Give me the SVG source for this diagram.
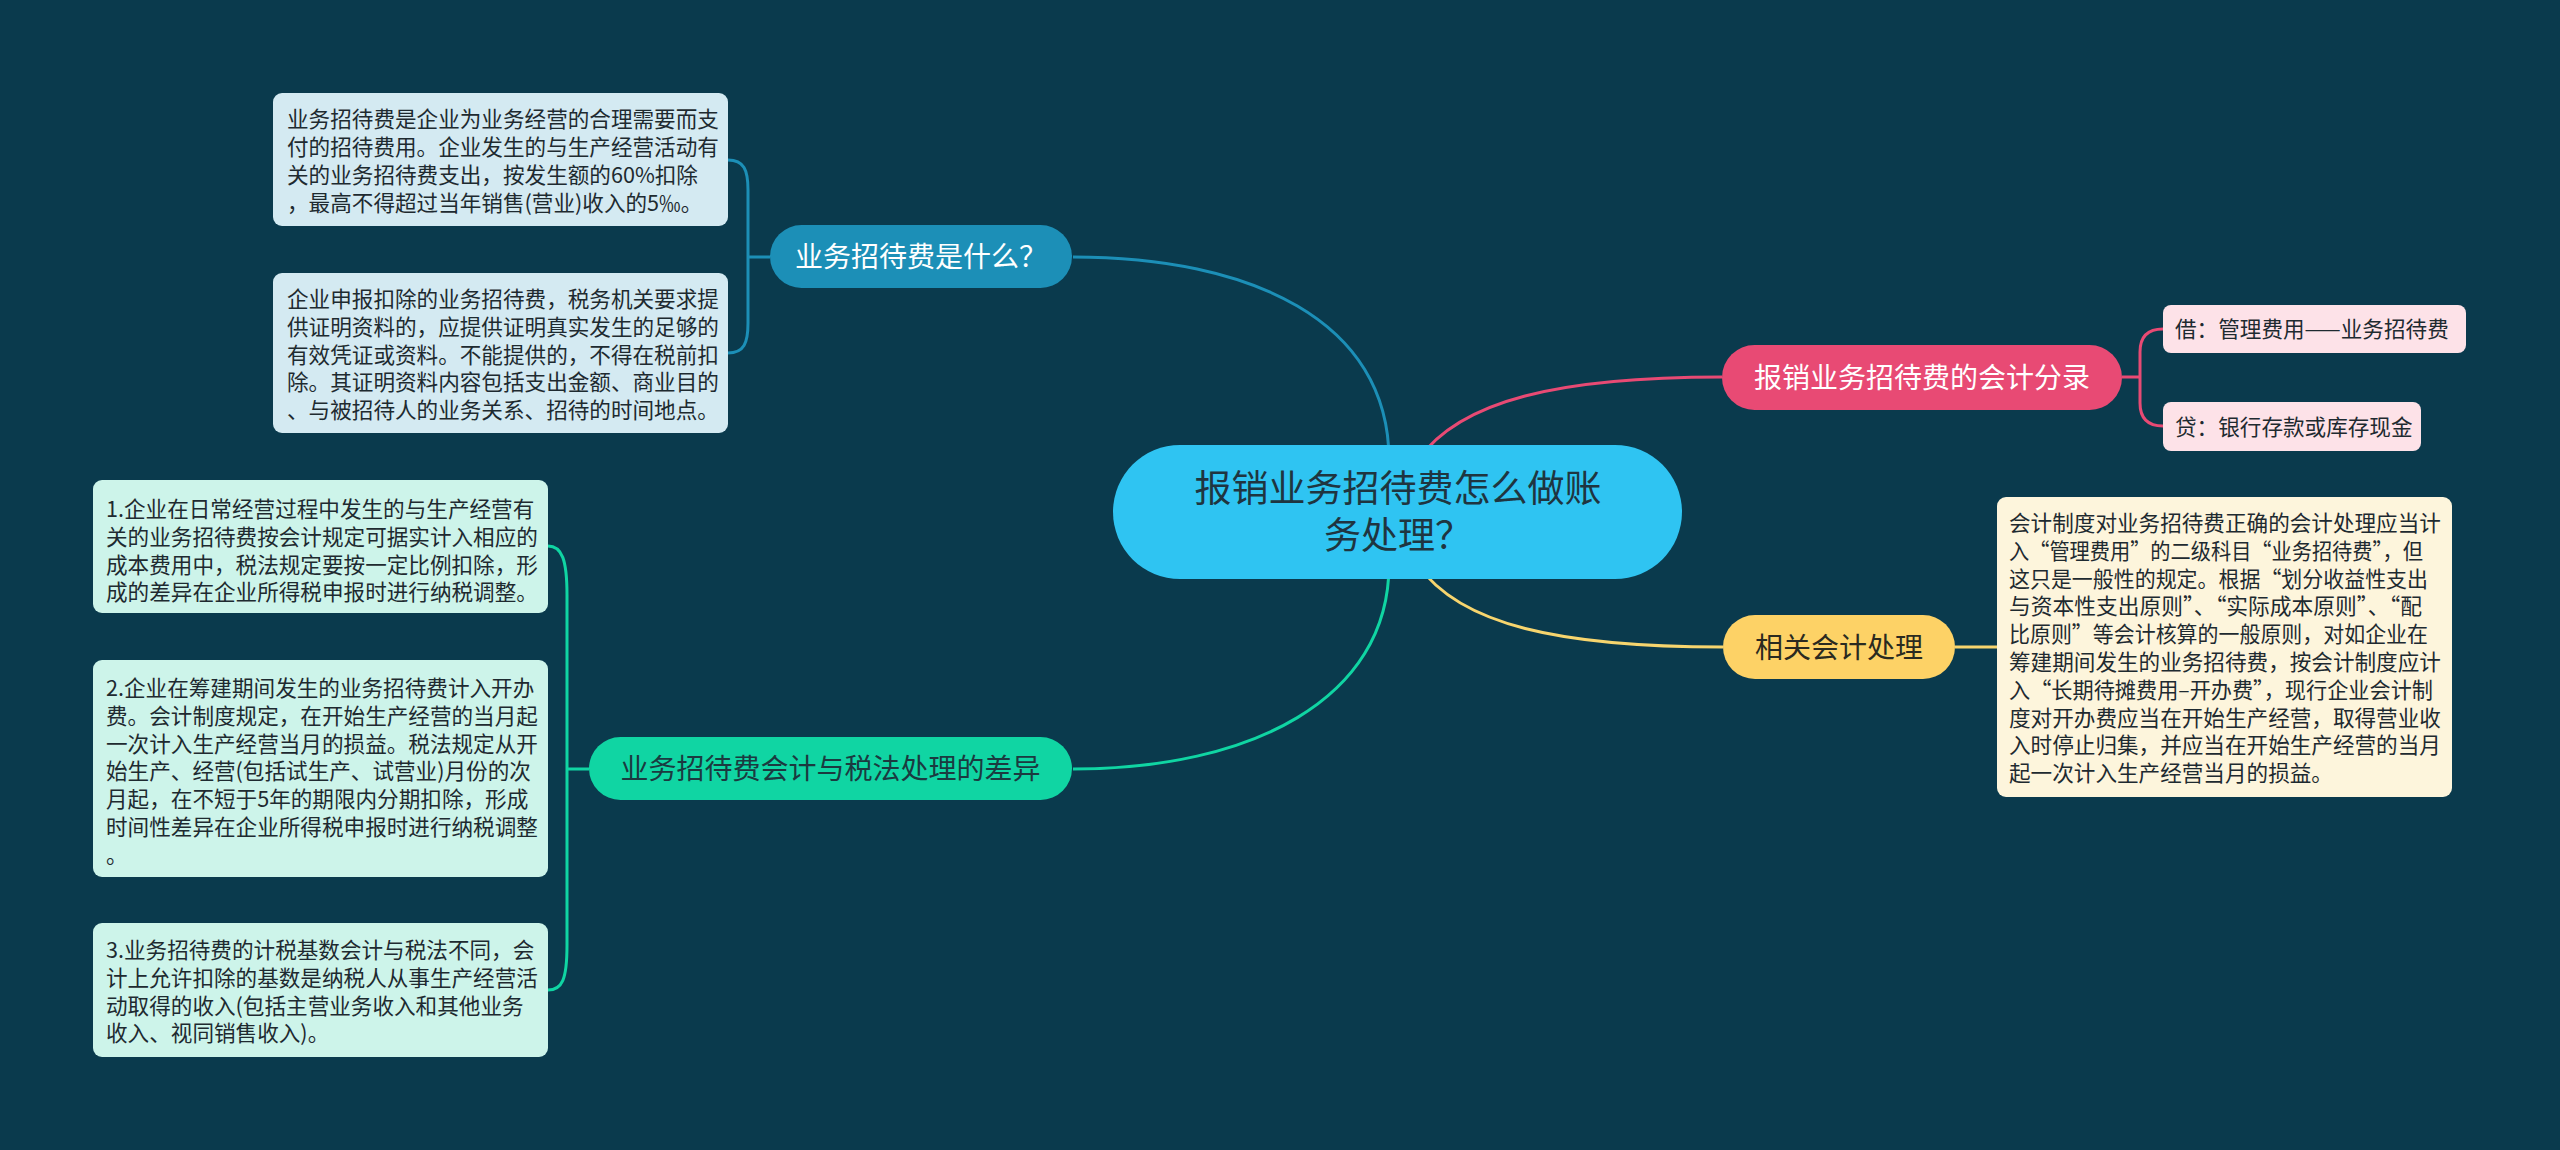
<svg xmlns="http://www.w3.org/2000/svg" width="2560" height="1150" viewBox="0 0 2560 1150">
<style>
text{font-family:"Noto Sans CJK SC","Noto Sans",sans-serif}
.leaf{font-size:21.6px;fill:#1e2a30}
.l1{font-size:28px;text-anchor:middle}
.c{fill:none;stroke-width:3}
</style>
<rect x="0" y="0" width="2560" height="1150" fill="#0a3a4d"/>
<g id="connectors">
<path class="c" stroke="#1c8fb7" d="M1389,460 C1389,320 1250,257 1073,257"/>
<path class="c" stroke="#10d5a3" d="M1389,565 C1389,700 1250,769 1073,769"/>
<path class="c" stroke="#e84a74" d="M1418,460 C1460,400 1560,377 1722,377"/>
<path class="c" stroke="#f7d56e" d="M1418,565 C1460,625 1560,647 1723,647"/>
<path class="c" stroke="#1c8fb7" d="M728,160 C744,160 748,170 748,190 L748,323 C748,343 744,353 728,353 M748,257 L770,257"/>
<path class="c" stroke="#10d5a3" d="M548,546 C562,546 567,560 567,595 L567,945 C567,980 562,990 548,990 M567,769 L589,769"/>
<path class="c" stroke="#e84a74" d="M2122,377 L2140,377 M2163,329 C2148,329 2140,336 2140,352 L2140,403 C2140,419 2148,426 2163,426"/>
<path class="c" stroke="#f7d56e" d="M1955,647 L1997,647"/>
</g>
<g id="center">
<rect x="1113" y="445" width="569" height="134" rx="67" fill="#2fc4f2"/>
<text font-size="37" text-anchor="middle" fill="#1f3540"><tspan x="1398" y="502">报销业务招待费怎么做账</tspan><tspan x="1398" y="549">务处理？</tspan></text>
</g>
<g id="n-what">
<rect x="770" y="225" width="302" height="63" rx="31.5" fill="#1c8fb7"/>
<text class="l1" x="921" y="267" fill="#ffffff">业务招待费是什么？</text>
</g>
<g id="n-diff">
<rect x="589" y="737" width="483" height="63" rx="31.5" fill="#10d5a3"/>
<text class="l1" x="830.5" y="779" fill="#1b3a40">业务招待费会计与税法处理的差异</text>
</g>
<g id="n-entry">
<rect x="1722" y="345" width="400" height="65" rx="32.5" fill="#e84a74"/>
<text class="l1" x="1922" y="388" fill="#ffffff">报销业务招待费的会计分录</text>
</g>
<g id="n-related">
<rect x="1723" y="615" width="232" height="64" rx="32" fill="#fdd266"/>
<text class="l1" x="1839" y="657.6" fill="#2a2a20">相关会计处理</text>
</g>
<g id="leaf-what-1">
<rect x="273" y="93" width="455" height="133" rx="9" fill="#d4eaf2"/>
<text class="leaf" x="287" y="127.3">业务招待费是企业为业务经营的合理需要而支</text>
<text class="leaf" x="287" y="155.1">付的招待费用。企业发生的与生产经营活动有</text>
<text class="leaf" x="287" y="182.9">关的业务招待费支出，按发生额的60%扣除</text>
<text class="leaf" x="287" y="210.7">，最高不得超过当年销售(营业)收入的5‰。</text>
</g>
<g id="leaf-what-2">
<rect x="273" y="273" width="455" height="160" rx="9" fill="#d4eaf2"/>
<text class="leaf" x="287" y="306.9">企业申报扣除的业务招待费，税务机关要求提</text>
<text class="leaf" x="287" y="334.7">供证明资料的，应提供证明真实发生的足够的</text>
<text class="leaf" x="287" y="362.5">有效凭证或资料。不能提供的，不得在税前扣</text>
<text class="leaf" x="287" y="390.3">除。其证明资料内容包括支出金额、商业目的</text>
<text class="leaf" x="287" y="418.1">、与被招待人的业务关系、招待的时间地点。</text>
</g>
<g id="leaf-diff-1">
<rect x="93" y="480" width="455" height="133" rx="9" fill="#cdf4ea"/>
<text class="leaf" x="106" y="517">1.企业在日常经营过程中发生的与生产经营有</text>
<text class="leaf" x="106" y="544.7">关的业务招待费按会计规定可据实计入相应的</text>
<text class="leaf" x="106" y="572.5">成本费用中，税法规定要按一定比例扣除，形</text>
<text class="leaf" x="106" y="600.3">成的差异在企业所得税申报时进行纳税调整。</text>
</g>
<g id="leaf-diff-2">
<rect x="93" y="660" width="455" height="217" rx="9" fill="#cdf4ea"/>
<text class="leaf" x="106" y="696">2.企业在筹建期间发生的业务招待费计入开办</text>
<text class="leaf" x="106" y="723.8">费。会计制度规定，在开始生产经营的当月起</text>
<text class="leaf" x="106" y="751.6">一次计入生产经营当月的损益。税法规定从开</text>
<text class="leaf" x="106" y="779.4">始生产、经营(包括试生产、试营业)月份的次</text>
<text class="leaf" x="106" y="807.2">月起，在不短于5年的期限内分期扣除，形成</text>
<text class="leaf" x="106" y="835">时间性差异在企业所得税申报时进行纳税调整</text>
<text class="leaf" x="106" y="862.8">。</text>
</g>
<g id="leaf-diff-3">
<rect x="93" y="923" width="455" height="134" rx="9" fill="#cdf4ea"/>
<text class="leaf" x="106" y="958">3.业务招待费的计税基数会计与税法不同，会</text>
<text class="leaf" x="106" y="985.8">计上允许扣除的基数是纳税人从事生产经营活</text>
<text class="leaf" x="106" y="1013.6">动取得的收入(包括主营业务收入和其他业务</text>
<text class="leaf" x="106" y="1041.4">收入、视同销售收入)。</text>
</g>
<g id="leaf-entry-1">
<rect x="2163" y="305" width="303" height="48" rx="8" fill="#fde2e8"/>
<text class="leaf" x="2175" y="337" fill="#5b1a2b">借：管理费用——业务招待费</text>
</g>
<g id="leaf-entry-2">
<rect x="2163" y="402" width="258" height="49" rx="8" fill="#fde2e8"/>
<text class="leaf" x="2175" y="434.5" fill="#5b1a2b">贷：银行存款或库存现金</text>
</g>
<g id="leaf-related">
<rect x="1997" y="497" width="455" height="300" rx="9" fill="#fdf5dc"/>
<g class="leaf" fill="#8a6508">
<text x="2009" y="531">会计制度对业务招待费正确的会计处理应当计</text>
<text x="2009" y="558.8" textLength="414" lengthAdjust="spacingAndGlyphs">入“管理费用”的二级科目“业务招待费”，但</text>
<text x="2009" y="586.6" textLength="419" lengthAdjust="spacingAndGlyphs">这只是一般性的规定。根据“划分收益性支出</text>
<text x="2009" y="614.4" textLength="413" lengthAdjust="spacingAndGlyphs">与资本性支出原则”、“实际成本原则”、“配</text>
<text x="2009" y="642.2" textLength="419" lengthAdjust="spacingAndGlyphs">比原则”等会计核算的一般原则，对如企业在</text>
<text x="2009" y="670">筹建期间发生的业务招待费，按会计制度应计</text>
<text x="2009" y="697.8" textLength="424" lengthAdjust="spacingAndGlyphs">入“长期待摊费用–开办费”，现行企业会计制</text>
<text x="2009" y="725.6">度对开办费应当在开始生产经营，取得营业收</text>
<text x="2009" y="753.4">入时停止归集，并应当在开始生产经营的当月</text>
<text x="2009" y="781.2">起一次计入生产经营当月的损益。</text>
</g>
</g>
</svg>
